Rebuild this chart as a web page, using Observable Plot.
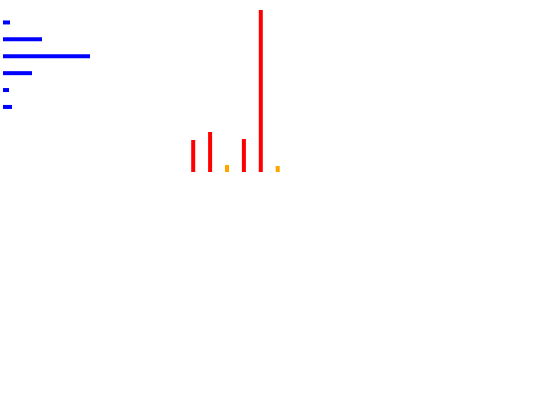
<!DOCTYPE html>
<html>
<head>
<meta charset="utf-8">
<script src="https://cdn.jsdelivr.net/npm/d3@7"></script>
<script src="https://cdn.jsdelivr.net/npm/@observablehq/plot@0.6"></script>
<style>
  html, body { margin: 0; padding: 0; background: #fff; }
  #wrap { position: relative; width: 540px; height: 405px; }
  #wrap > svg, #wrap > figure { position: absolute; left: 0; top: 0; margin: 0; }
</style>
</head>
<body>
<div id="wrap"></div>
<script>
// Horizontal (blue) bars
const hCategories = ["A", "B", "C", "D", "E", "F"];
const hValues = [7, 39, 87, 29, 6, 9];

// Vertical bars
const vCategories = ["1", "2", "3", "4", "5", "6"];
const vValues = [32, 40, 7, 33, 162, 6];
const vGroups = ["high", "high", "low", "high", "high", "low"];

const hData = hCategories.map((c, i) => ({cat: c, value: hValues[i]}));
const vData = vCategories.map((c, i) => ({cat: c, value: vValues[i], group: vGroups[i]}));

const chartH = Plot.plot({
  width: 120,
  height: 130,
  marginLeft: 3,
  marginRight: 17,
  marginTop: 13.5,
  marginBottom: 15.1,
  x: {domain: [0, 100], axis: null},
  y: {type: "point", domain: hCategories, axis: null, round: false},
  marks: [
    Plot.ruleY(hData, {y: "cat", x1: 0, x2: "value", stroke: "blue", strokeWidth: 4})
  ]
});

const chartV = Plot.plot({
  width: 540,
  height: 200,
  marginLeft: 184.25,
  marginRight: 254.35,
  marginTop: 10,
  marginBottom: 28,
  x: {type: "point", domain: vCategories, axis: null, round: false},
  y: {domain: [0, 162], axis: null},
  color: {domain: ["high", "low"], range: ["red", "orange"]},
  marks: [
    Plot.ruleX(vData, {x: "cat", y1: 0, y2: "value", stroke: "group", strokeWidth: 4})
  ]
});

const wrap = document.getElementById("wrap");
wrap.appendChild(chartV);
wrap.appendChild(chartH);
</script>
</body>
</html>
